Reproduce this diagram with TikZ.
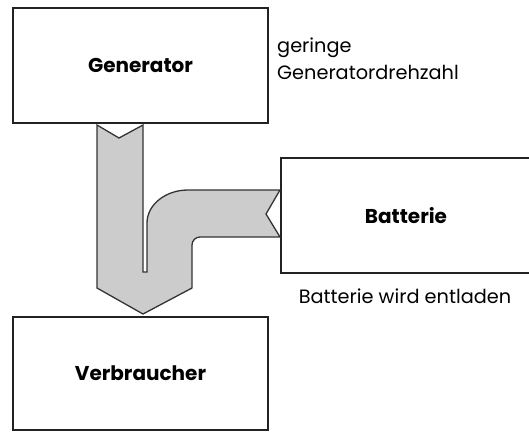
\documentclass[tikz,border=0pt]{standalone}
\usepackage{fontspec}
\setmainfont{Poppins}
\usepackage{tikz}
\usetikzlibrary{positioning,calc}
\definecolor{flGray}{HTML}{222222}
\definecolor{flPipe}{HTML}{CCCCCC}
\definecolor{flPipeD}{HTML}{333333}
\tikzset{
  fl-box/.style={
    draw=flGray, line width=2pt, fill=white,
    font=\fontsize{20}{23}\selectfont\bfseries, align=center,
    inner sep=0pt
  },
  fl-note/.style={font=\fontsize{19.3}{27}\selectfont, text=black,
    align=left, inner sep=0pt},
  fl-pipe/.style={draw=flPipeD, line width=1.3pt, fill=flPipe,
    line join=miter}
}
\begin{document}
\begin{tikzpicture}[x=1pt, y=-1pt]
\useasboundingbox (0,0) rectangle (529,432);

% Boxes
\node[fl-box, minimum width=255pt, minimum height=115pt] (gen)
  at (140.5,65.5) {Generator};
\node[fl-box, minimum width=250pt, minimum height=115pt] (bat)
  at (406,215.5) {Batterie};
\node[fl-box, minimum width=255pt, minimum height=113pt] (verb)
  at (140.5,373.5) {Verbraucher};

% Notes
\node[fl-note, anchor=north west] (drehzahl) at (277,38)
  {geringe\\ Generatordrehzahl};
\node[fl-note, anchor=base] (entladen) at (405,303)
  {Batterie wird entladen};

% Energy flow
\draw[fl-pipe] (97,125) -- (119,138) -- (143,125) -- (143,272)
  -- (147,272) -- (147,223)
  .. controls (147,204.8) and (165.4,190) .. (188,190)
  -- (280,190) -- (266,214) -- (280,237) -- (200,237)
  .. controls (195.6,237) and (192,240.6) .. (192,245)
  -- (192,288) -- (143,314) -- (97,288) -- cycle;
\end{tikzpicture}
\end{document}
